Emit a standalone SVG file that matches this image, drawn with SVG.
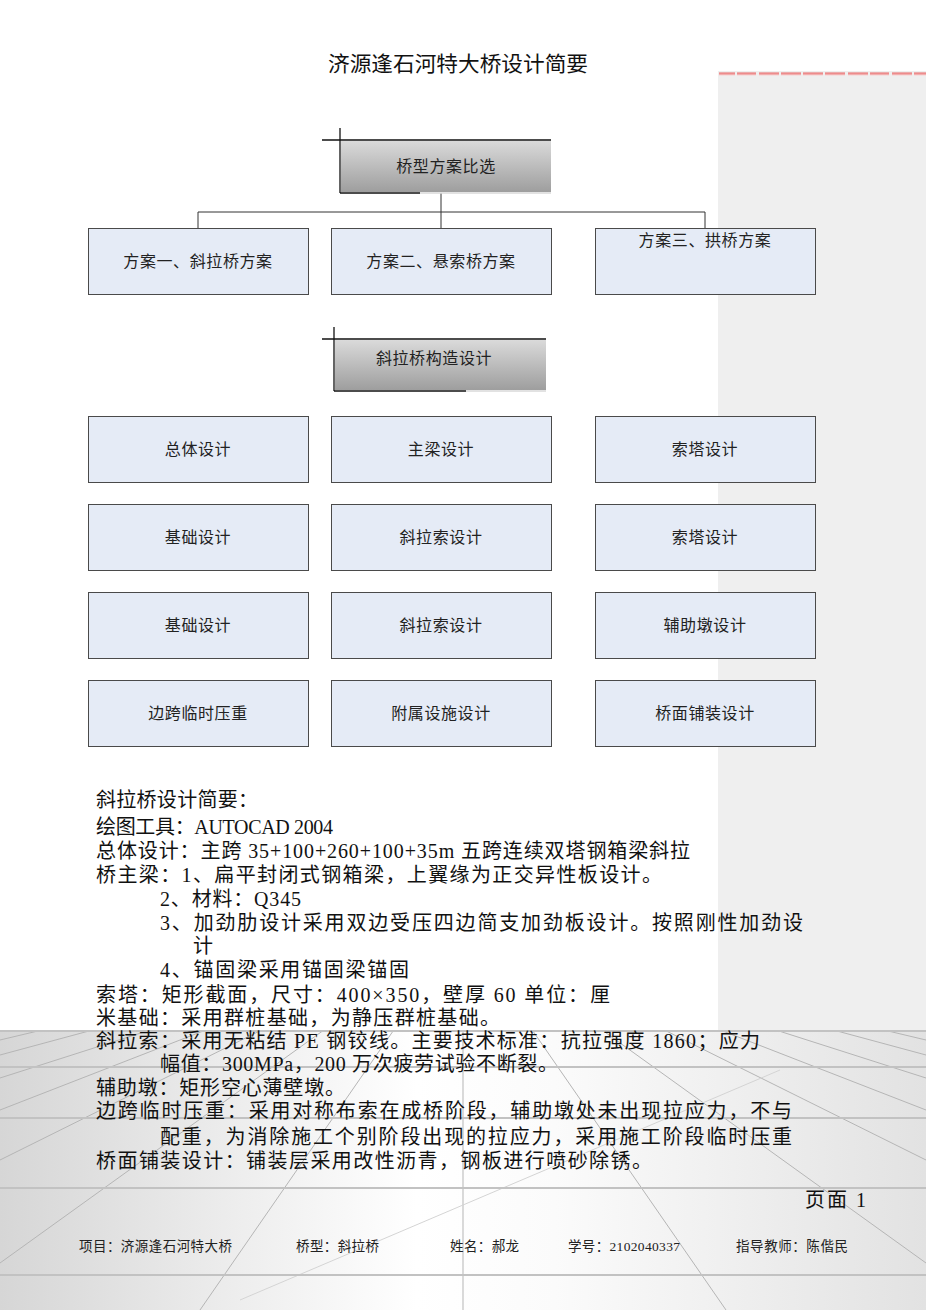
<svg xmlns="http://www.w3.org/2000/svg" width="926" height="1310" viewBox="0 0 926 1310">
<defs>
<style>
.box{fill:#e5ebf6;stroke:#4a4a4a;stroke-width:1}
.bt{font-family:"Noto Sans CJK SC",sans-serif;font-size:16px;fill:#222;text-anchor:middle;letter-spacing:0.6px}
.hd{font-family:"Noto Sans CJK SC",sans-serif;font-size:16px;fill:#222;text-anchor:middle;letter-spacing:0.6px}
.body{font-family:"Liberation Serif","Noto Sans CJK SC",serif;font-size:20px;fill:#111}
.foot{font-family:"Liberation Serif","Noto Sans CJK SC",serif;font-size:13.5px;fill:#222}
.con{stroke:#333;stroke-width:1;fill:none}
.hl{stroke:#c2c2c2;stroke-width:2}
.rl{stroke:#b5b5b5;stroke-width:1}
.dash{fill:url(#red)}
</style>
<linearGradient id="hg" x1="0" y1="0" x2="0" y2="1">
<stop offset="0" stop-color="#dadada"/>
<stop offset="1" stop-color="#9e9e9e"/>
</linearGradient>
<linearGradient id="red" x1="0" y1="0" x2="0" y2="1">
<stop offset="0" stop-color="#e86a6a"/>
<stop offset="1" stop-color="#f7d0d0"/>
</linearGradient>
<linearGradient id="floor" x1="0" y1="0" x2="1" y2="0">
<stop offset="0" stop-color="#d6d6d6"/>
<stop offset="0.45" stop-color="#ffffff"/>
<stop offset="0.6" stop-color="#fbfbfb"/>
<stop offset="1" stop-color="#e2e2e2"/>
</linearGradient>
<clipPath id="fc"><rect x="0" y="1031" width="926" height="279"/></clipPath>
</defs>

<g id="background">
<rect x="0" y="0" width="926" height="1310" fill="#ffffff"/>
<rect x="718" y="71" width="208" height="960" fill="#efefef"/>
<rect x="0" y="1031" width="926" height="279" fill="url(#floor)"/>
<g clip-path="url(#fc)">
<line class="rl" x1="463" y1="930" x2="0" y2="1040"/>
<line class="rl" x1="463" y1="930" x2="0" y2="1055"/>
<line class="rl" x1="463" y1="930" x2="0" y2="1078"/>
<line class="rl" x1="463" y1="930" x2="0" y2="1110"/>
<line class="rl" x1="463" y1="930" x2="0" y2="1160"/>
<line class="rl" x1="463" y1="930" x2="0" y2="1263"/>
<line class="rl" x1="463" y1="930" x2="200" y2="1310"/>
<line class="rl" x1="463" y1="930" x2="926" y2="1040"/>
<line class="rl" x1="463" y1="930" x2="926" y2="1055"/>
<line class="rl" x1="463" y1="930" x2="926" y2="1078"/>
<line class="rl" x1="463" y1="930" x2="926" y2="1110"/>
<line class="rl" x1="463" y1="930" x2="926" y2="1160"/>
<line class="rl" x1="463" y1="930" x2="926" y2="1263"/>
<line class="rl" x1="463" y1="930" x2="726" y2="1310"/>
<line class="rl" x1="463" y1="1031" x2="463" y2="1310"/>
<line x1="240" y1="1300" x2="780" y2="1070" stroke="#d4d4d4" stroke-width="1"/>
</g>
<line class="hl" x1="0" y1="1031" x2="926" y2="1031"/>
<line class="hl" x1="0" y1="1067" x2="926" y2="1067"/>
<line class="hl" x1="0" y1="1118" x2="926" y2="1118"/>
<line class="hl" x1="0" y1="1188" x2="926" y2="1188"/>
<line class="hl" x1="0" y1="1275" x2="926" y2="1275"/>
<rect class="dash" x="719" y="72.5" width="16" height="3"/>
<rect class="dash" x="737" y="72.5" width="19" height="3"/>
<rect class="dash" x="759" y="72.5" width="20" height="3"/>
<rect class="dash" x="781" y="72.5" width="20" height="3"/>
<rect class="dash" x="803" y="72.5" width="20" height="3"/>
<rect class="dash" x="825" y="72.5" width="20" height="3"/>
<rect class="dash" x="848" y="72.5" width="20" height="3"/>
<rect class="dash" x="870" y="72.5" width="19" height="3"/>
<rect class="dash" x="892" y="72.5" width="20" height="3"/>
<rect class="dash" x="914" y="72.5" width="12" height="3"/>
</g>

<text id="title" x="328" y="71" textLength="260" lengthAdjust="spacingAndGlyphs" style="font-family:'Liberation Serif','Noto Sans CJK SC',serif;font-size:21px;fill:#111">济源逢石河特大桥设计简要</text>

<g id="connectors">
<line class="con" x1="441" y1="193" x2="441" y2="228"/>
<line class="con" x1="198" y1="212" x2="705" y2="212"/>
<line class="con" x1="198" y1="212" x2="198" y2="228"/>
<line class="con" x1="705" y1="212" x2="705" y2="228"/>
</g>

<g id="header1">
<rect x="341" y="141" width="210" height="51" fill="url(#hg)"/>
<line x1="322" y1="140" x2="551" y2="140" stroke="#111" stroke-width="1.3"/>
<line x1="340" y1="128" x2="340" y2="193" stroke="#111" stroke-width="1.3"/>
<line x1="340" y1="193" x2="420" y2="193" stroke="#111" stroke-width="1.3"/>
<line x1="420" y1="193" x2="551" y2="193" stroke="#d8d8d8" stroke-width="1.5"/>
<text class="hd" x="446" y="172">桥型方案比选</text>
</g>

<g id="plan1"><rect class="box" x="88.5" y="228.5" width="220" height="66"/><text class="bt" x="198" y="267">方案一、斜拉桥方案</text></g>
<g id="plan2"><rect class="box" x="331.5" y="228.5" width="220" height="66"/><text class="bt" x="441" y="267">方案二、悬索桥方案</text></g>
<g id="plan3"><rect class="box" x="595.5" y="228.5" width="220" height="66"/><text class="bt" x="705" y="246">方案三、拱桥方案</text></g>

<g id="header2">
<rect x="335" y="340" width="211" height="50" fill="url(#hg)"/>
<line x1="322" y1="339" x2="546" y2="339" stroke="#111" stroke-width="1.3"/>
<line x1="334" y1="327" x2="334" y2="391" stroke="#111" stroke-width="1.3"/>
<line x1="334" y1="391" x2="466" y2="391" stroke="#111" stroke-width="1.3"/>
<line x1="466" y1="391" x2="546" y2="391" stroke="#d8d8d8" stroke-width="1.5"/>
<text class="hd" x="434" y="364">斜拉桥构造设计</text>
</g>

<g id="n11"><rect class="box" x="88.5" y="416.5" width="220" height="66"/><text class="bt" x="198" y="455">总体设计</text></g>
<g id="n12"><rect class="box" x="331.5" y="416.5" width="220" height="66"/><text class="bt" x="441" y="455">主梁设计</text></g>
<g id="n13"><rect class="box" x="595.5" y="416.5" width="220" height="66"/><text class="bt" x="705" y="455">索塔设计</text></g>
<g id="n21"><rect class="box" x="88.5" y="504.5" width="220" height="66"/><text class="bt" x="198" y="543">基础设计</text></g>
<g id="n22"><rect class="box" x="331.5" y="504.5" width="220" height="66"/><text class="bt" x="441" y="543">斜拉索设计</text></g>
<g id="n23"><rect class="box" x="595.5" y="504.5" width="220" height="66"/><text class="bt" x="705" y="543">索塔设计</text></g>
<g id="n31"><rect class="box" x="88.5" y="592.5" width="220" height="66"/><text class="bt" x="198" y="631">基础设计</text></g>
<g id="n32"><rect class="box" x="331.5" y="592.5" width="220" height="66"/><text class="bt" x="441" y="631">斜拉索设计</text></g>
<g id="n33"><rect class="box" x="595.5" y="592.5" width="220" height="66"/><text class="bt" x="705" y="631">辅助墩设计</text></g>
<g id="n41"><rect class="box" x="88.5" y="680.5" width="220" height="66"/><text class="bt" x="198" y="719">边跨临时压重</text></g>
<g id="n42"><rect class="box" x="331.5" y="680.5" width="220" height="66"/><text class="bt" x="441" y="719">附属设施设计</text></g>
<g id="n43"><rect class="box" x="595.5" y="680.5" width="220" height="66"/><text class="bt" x="705" y="719">桥面铺装设计</text></g>

<g id="summary">
<text class="body" x="96" y="807" textLength="162" lengthAdjust="spacing">斜拉桥设计简要：</text>
<text class="body" x="96" y="834" textLength="237" lengthAdjust="spacing">绘图工具：AUTOCAD 2004</text>
<text class="body" x="96" y="858" textLength="594" lengthAdjust="spacing">总体设计：主跨 35+100+260+100+35m 五跨连续双塔钢箱梁斜拉</text>
<text class="body" x="96" y="882" textLength="566" lengthAdjust="spacing">桥主梁：1、扁平封闭式钢箱梁，上翼缘为正交异性板设计。</text>
<text class="body" x="160" y="906" textLength="141" lengthAdjust="spacing">2、材料：Q345</text>
<text class="body" x="160" y="930" textLength="643" lengthAdjust="spacing">3、加劲肋设计采用双边受压四边简支加劲板设计。按照刚性加劲设</text>
<text class="body" x="193" y="953">计</text>
<text class="body" x="160" y="977" textLength="249" lengthAdjust="spacing">4、锚固梁采用锚固梁锚固</text>
<text class="body" x="96" y="1002" textLength="514" lengthAdjust="spacing">索塔：矩形截面，尺寸：400×350，壁厚 60 单位：厘</text>
<text class="body" x="96" y="1025" textLength="404" lengthAdjust="spacing">米基础：采用群桩基础，为静压群桩基础。</text>
<text class="body" x="96" y="1048" textLength="664" lengthAdjust="spacing">斜拉索：采用无粘结 PE 钢铰线。主要技术标准：抗拉强度 1860；应力</text>
<text class="body" x="160" y="1071" textLength="398" lengthAdjust="spacing">幅值：300MPa，200 万次疲劳试验不断裂。</text>
<text class="body" x="96" y="1095" textLength="249" lengthAdjust="spacing">辅助墩：矩形空心薄壁墩。</text>
<text class="body" x="96" y="1118" textLength="696" lengthAdjust="spacing">边跨临时压重：采用对称布索在成桥阶段，辅助墩处未出现拉应力，不与</text>
<text class="body" x="160" y="1144" textLength="632" lengthAdjust="spacing">配重，为消除施工个别阶段出现的拉应力，采用施工阶段临时压重</text>
<text class="body" x="96" y="1168" textLength="556" lengthAdjust="spacing">桥面铺装设计：铺装层采用改性沥青，钢板进行喷砂除锈。</text>
</g>

<g id="footer">
<text class="body" x="805" y="1207" textLength="61" lengthAdjust="spacing">页面 1</text>
<text class="foot" x="79" y="1251" textLength="153" lengthAdjust="spacing">项目：济源逢石河特大桥</text>
<text class="foot" x="296" y="1251" textLength="83" lengthAdjust="spacing">桥型：斜拉桥</text>
<text class="foot" x="450" y="1251" textLength="69" lengthAdjust="spacing">姓名：郝龙</text>
<text class="foot" x="568" y="1251" textLength="112" lengthAdjust="spacing">学号：2102040337</text>
<text class="foot" x="736" y="1251" textLength="112" lengthAdjust="spacing">指导教师：陈偕民</text>
</g>
</svg>
